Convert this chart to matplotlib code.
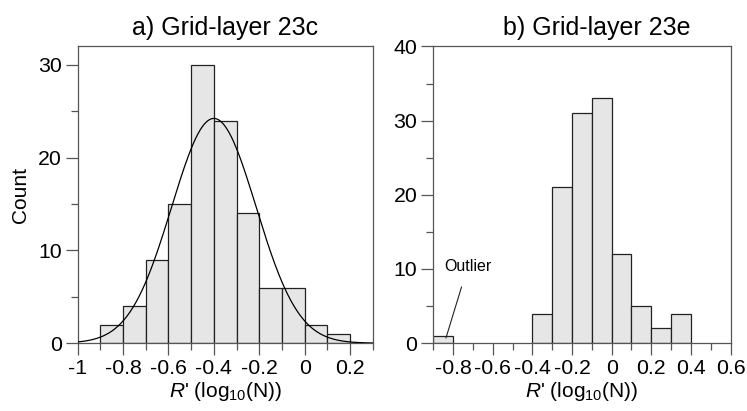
import numpy as np
import matplotlib
matplotlib.use('Agg')
import matplotlib.pyplot as plt
from matplotlib.ticker import MultipleLocator, FixedLocator

plt.rcParams['font.family'] = ['Liberation Sans', 'DejaVu Sans']
plt.rcParams['mathtext.fontset'] = 'custom'
plt.rcParams['mathtext.rm'] = 'Liberation Sans'
plt.rcParams['mathtext.it'] = 'Liberation Sans:italic'
plt.rcParams['axes.unicode_minus'] = False

# a) Grid-layer 23c
bins_a = [-0.9, -0.8, -0.7, -0.6, -0.5, -0.4, -0.3, -0.2, -0.1, 0.0, 0.1]
counts_a = [2, 4, 9, 15, 30, 24, 14, 6, 6, 2, 1]
fit_mean = -0.4
fit_sd = 0.186

# b) Grid-layer 23e
bins_b = [-0.9, -0.4, -0.3, -0.2, -0.1, 0.0, 0.1, 0.2, 0.3]
counts_b = [1, 4, 21, 31, 33, 12, 5, 2, 4]

bin_width = 0.1
bar_face = '#e6e6e6'
bar_edge = '#222222'
spine_col = '#555555'

fig = plt.figure(figsize=(7.47, 4.11), dpi=100)
ax1 = fig.add_axes([0.104, 0.165, 0.395, 0.722])
ax2 = fig.add_axes([0.580, 0.165, 0.398, 0.722])

ax1.bar(bins_a, counts_a, width=bin_width, align='edge', color=bar_face,
        edgecolor=bar_edge, linewidth=0.9, zorder=2)
xs = np.linspace(-1, 0.3, 300)
n_total = sum(counts_a)
ys = n_total * bin_width / (fit_sd * np.sqrt(2 * np.pi)) * np.exp(-0.5 * ((xs - fit_mean) / fit_sd) ** 2)
ax1.plot(xs, ys, color='black', linewidth=0.9, zorder=3)

ax2.bar(bins_b, counts_b, width=bin_width, align='edge', color=bar_face,
        edgecolor=bar_edge, linewidth=0.9, zorder=2)

ax1.set_xlim(-1, 0.3)
ax1.set_ylim(0, 32)
ax1.xaxis.set_major_locator(FixedLocator([-1, -0.8, -0.6, -0.4, -0.2, 0, 0.2]))
ax1.xaxis.set_minor_locator(FixedLocator([-0.9, -0.7, -0.5, -0.3, -0.1, 0.1, 0.3]))
ax1.set_xticklabels(['-1', '-0.8', '-0.6', '-0.4', '-0.2', '0', '0.2'])
ax1.yaxis.set_major_locator(MultipleLocator(10))
ax1.yaxis.set_minor_locator(MultipleLocator(5))
ax1.set_ylabel('Count', fontsize=15, labelpad=6)
ax1.set_title('a) Grid-layer 23c', fontsize=18, pad=8)

ax2.set_xlim(-0.9, 0.6)
ax2.set_ylim(0, 40)
ax2.xaxis.set_major_locator(FixedLocator([-0.8, -0.6, -0.4, -0.2, 0, 0.2, 0.4, 0.6]))
ax2.xaxis.set_minor_locator(FixedLocator([-0.9, -0.7, -0.5, -0.3, -0.1, 0.1, 0.3, 0.5]))
ax2.set_xticklabels(['-0.8', '-0.6', '-0.4', '-0.2', '0', '0.2', '0.4', '0.6'])
ax2.yaxis.set_major_locator(MultipleLocator(10))
ax2.yaxis.set_minor_locator(MultipleLocator(5))
ax2.set_title('b) Grid-layer 23e', fontsize=18, pad=8, x=0.55)

ax2.annotate('Outlier', xy=(-0.836, 0.7), xytext=(-0.725, 10.4),
             fontsize=11.5, ha='center', va='center',
             arrowprops=dict(arrowstyle='-', color='#222222', lw=0.8,
                             shrinkA=8, shrinkB=0))

for ax in (ax1, ax2):
    ax.set_xlabel(r"$\it{R}$' (log$_{10}$(N))", fontsize=15, labelpad=1)
    ax.tick_params(which='major', direction='out', length=8.5, width=0.9,
                   labelsize=15.3, color=spine_col, pad=3)
    ax.tick_params(which='minor', direction='out', length=5, width=0.9,
                   color=spine_col)
    for s in ax.spines.values():
        s.set_color(spine_col)
        s.set_linewidth(0.9)

fig.savefig('out.png', dpi=100)
